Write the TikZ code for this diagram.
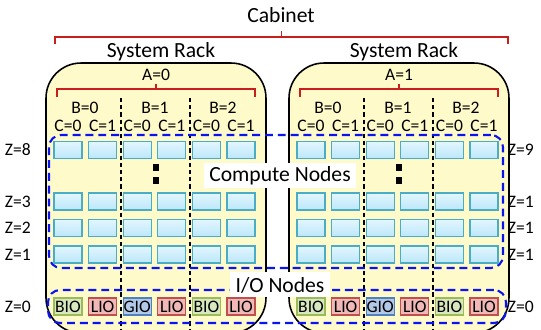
\documentclass[tikz,border=0pt]{standalone}
\usepackage{fontspec}
\setmainfont{Carlito}
\usepackage{tikz}

\definecolor{rackfill}{RGB}{255,250,202}
\definecolor{bracered}{RGB}{200,30,30}
\definecolor{cnodeline}{RGB}{75,172,198}
\definecolor{cnodetop}{RGB}{226,246,254}
\definecolor{cnodebot}{RGB}{188,231,250}
\definecolor{bioline}{RGB}{155,187,89}
\definecolor{biofill}{RGB}{216,232,190}
\definecolor{lioline}{RGB}{192,80,77}
\definecolor{liofill}{RGB}{240,184,182}
\definecolor{gioline}{RGB}{79,129,189}
\definecolor{giofill}{RGB}{178,202,234}
\definecolor{grpblue}{RGB}{10,20,240}

\begin{document}
\begin{tikzpicture}[x=0.02cm, y=-0.02cm,
	hdr/.style={font=\fontsize{12.3}{14}\selectfont},
	lbl/.style={font=\fontsize{10}{12}\selectfont},
	rack/.style={draw=black, line width=0.9pt, fill=rackfill, rounded corners=0.7cm, minimum width=4.4cm, minimum height=5.4cm, inner sep=0},
	brace/.style={draw=bracered, line width=0.75pt},
	sep/.style={black, line width=0.6pt, dash pattern=on 2.4pt off 1.7pt},
	grp/.style={draw=grpblue, line width=1.2pt, dash pattern=on 4.5pt off 2.8pt, rounded corners=0.24cm, inner sep=0},
	box/.style={line width=0.6pt, minimum width=0.56cm, minimum height=0.34cm, inner sep=0, lbl},
	cnode/.style={box, draw=cnodeline, top color=cnodetop, bottom color=cnodebot},
	bio/.style={box, draw=bioline, fill=biofill},
	lio/.style={box, draw=lioline, fill=liofill},
	gio/.style={box, draw=gioline, fill=giofill},
	tag/.style={hdr, fill=white, inner xsep=3pt, inner ysep=1pt, minimum height=0.5cm}]
	\useasboundingbox (0,0) rectangle (541,330);
	\clip (0,0) rectangle (541,330);
	\node[hdr] (cabinet) at (281,15) {Cabinet};
	\draw[brace] (55,44) -- (55,37) -- (508,37) -- (508,44) (281.5,37) -- (281.5,31);
	\foreach \a/\L in {0/46, 1/289} {
		\node[rack] (rack\a) at ({\L+110},198) {};
		\node[hdr] (sys\a) at ({\L+115},52) {System Rack};
		\node[lbl] (A\a) at ({\L+110},75) {A=\a};
		\draw[brace] ({\L+11},97) -- ({\L+11},89) -- ({\L+209},89) -- ({\L+209},97) ({\L+110},89) -- ({\L+110},84);
		\foreach \b/\dx in {0/39, 1/109, 2/177}
			\node[lbl] (B\a-\b) at ({\L+\dx},108) {B=\b};
		\foreach \i/\c in {0/0, 1/1, 2/0, 3/1, 4/0, 5/1}
			\node[lbl] (C\a-\i) at ({\L+22+34.6*\i},126) {C=\c};
		\foreach \dx in {75,144}
			\draw[sep] ({\L+\dx},98) -- ({\L+\dx},335);
		\fill ({\L+107},164) rectangle +(6,7);
		\fill ({\L+107},177) rectangle +(6,7);
	}
	\node[grp, minimum width=9.08cm, minimum height=2.66cm] (compute) at (276,201.5) {};
	\node[grp, minimum width=9.16cm, minimum height=0.66cm] (ionodes) at (277,306.5) {};
	\foreach \a/\L in {0/46, 1/289} {
		\foreach \i in {0,...,5} {
			\foreach \r/\y in {8/150, 3/201.5, 2/228, 1/254.5}
				\node[cnode] (cn\a-\i-\r) at ({\L+22+34.6*\i},\y) {};
		}
		\foreach \t/\s [count=\i from 0] in {BIO/bio, LIO/lio, GIO/gio, LIO/lio, BIO/bio, LIO/lio}
			\node[\s] (io\a-\i) at ({\L+22+34.6*\i},306.5) {\t};
	}
	\foreach \zl/\zr/\y [count=\k] in {8/9/150, 3/1/201.5, 2/1/228, 1/1/254.5, 0/0/306.5} {
		\node[lbl, anchor=east] (zl\k) at (37,\y) {Z=\zl};
		\node[lbl, anchor=east] (zr\k) at (540,\y) {Z=\zr};
	}
	\node[tag] (computelbl) at (280,176) {Compute Nodes};
	\node[tag] (iolbl) at (280,285) {I/O Nodes};
\end{tikzpicture}
\end{document}
